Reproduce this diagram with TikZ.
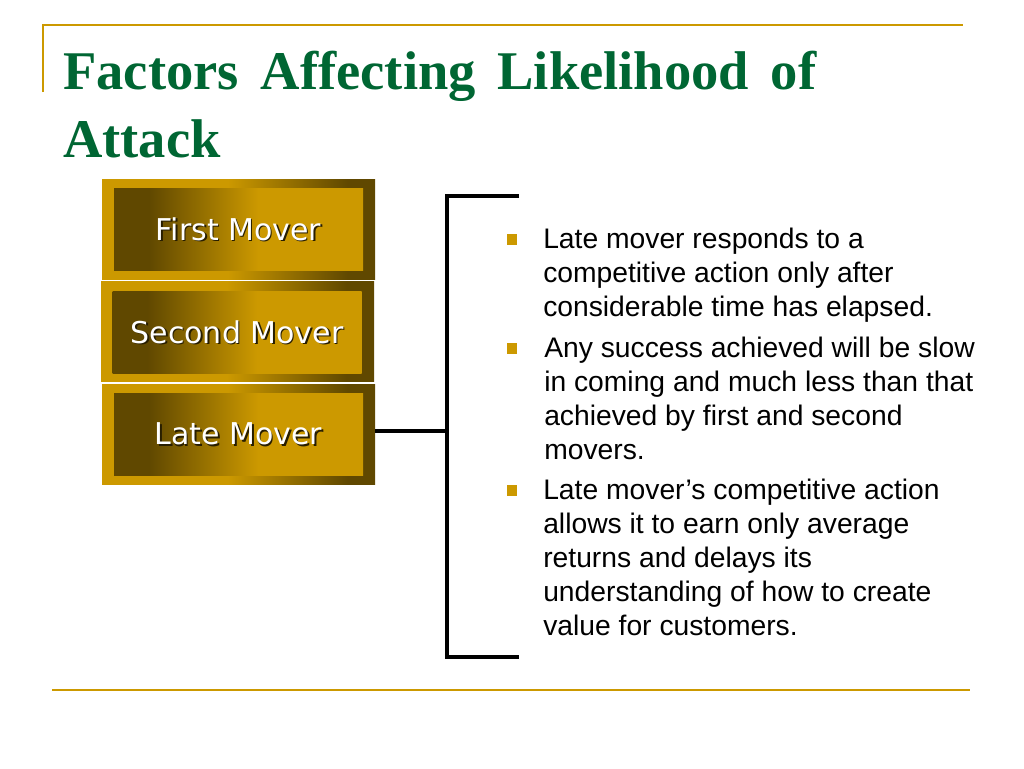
\documentclass[tikz,border=0pt]{standalone}
\usepackage{fontspec}
\setmainfont{Liberation Sans}
\newfontfamily\titlefont[WordSpace=1.6]{Liberation Serif}
\newfontfamily\moverfont{DejaVu Sans}
\definecolor{title_green}{RGB}{0,102,51}
\definecolor{rule_gold}{RGB}{204,153,0}
\definecolor{mover_gold}{RGB}{204,153,0}
\definecolor{mover_dark}{RGB}{96,72,0}
\definecolor{mover_shadow}{RGB}{40,30,0}
\pgfdeclarehorizontalshading{mover_frame}{100bp}{color(0bp)=(mover_gold); color(25bp)=(mover_gold); color(48bp)=(mover_gold); color(70bp)=(mover_dark); color(75bp)=(mover_dark); color(100bp)=(mover_dark)}
\pgfdeclarehorizontalshading{mover_fill}{100bp}{color(0bp)=(mover_dark); color(25bp)=(mover_dark); color(32bp)=(mover_dark); color(54bp)=(mover_gold); color(75bp)=(mover_gold); color(100bp)=(mover_gold)}
\tikzset{
    title_text/.style = {anchor=north west, inner sep=0pt, align=left, text=title_green, font=\titlefont\bfseries\fontsize{40.9}{51}\selectfont},
    box_outer/.style = {rectangle, inner sep=0pt, shade, shading=mover_frame, minimum width=204.75pt, minimum height=75pt},
    box_inner/.style = {rectangle, inner sep=0pt, shade, shading=mover_fill, minimum width=186.75pt, minimum height=61.5pt},
    box_label/.style = {inner sep=0pt, text=white, font=\moverfont\fontsize{22.5}{27}\selectfont},
    box_shadow/.style = {box_label, text=mover_shadow},
    bullet_mark/.style = {rectangle, inner sep=0pt, fill=mover_gold, minimum size=8pt},
    bullet_text/.style = {anchor=north west, inner sep=0pt, align=left, font=\fontsize{21.2}{25.5}\selectfont},
    rule_line/.style = {draw=rule_gold, line width=1.5pt},
    bracket_line/.style = {draw=black, line width=3pt}
}

\begin{document}
\begin{tikzpicture}[x=0.75pt, y=-0.75pt]
    \useasboundingbox (0,0) rectangle (1024,768);
    % slide rules
    \draw[rule_line] (43,92) -- (43,25) -- (963,25);
    \draw[rule_line, line width=2pt] (52,690) -- (970,690);
    % title
    \node[title_text] (title) at (63,50.6) {Factors Affecting Likelihood of\\Attack};
    % mover boxes
    \node[box_outer] (first_outer) at (238.5,229) {};
    \node[box_inner] (first_inner) at (first_outer.center) {};
    \node[box_shadow] (first_shadow) at ([shift={(1.5,1.5)}]first_inner.center) {First Mover};
    \node[box_label] (first_label) at (first_inner.center) {First Mover};
    \node[box_outer] (second_outer) at (237.5,331.5) {};
    \node[box_inner] (second_inner) at (237,332) {};
    \node[box_shadow] (second_shadow) at ([shift={(1.5,1.5)}]second_inner.center) {Second Mover};
    \node[box_label] (second_label) at (second_inner.center) {Second Mover};
    \node[box_outer] (late_outer) at (238.5,434) {};
    \node[box_inner] (late_inner) at (late_outer.center) {};
    \node[box_shadow] (late_shadow) at ([shift={(1.5,1.5)}]late_inner.center) {Late Mover};
    \node[box_label] (late_label) at (late_inner.center) {Late Mover};
    % bracket
    \coordinate (bracket_mid) at (447,430.5);
    \coordinate (bracket_top) at (519,196);
    \coordinate (bracket_bottom) at (519,657);
    \draw[bracket_line] (late_outer.east |- bracket_mid) -- (bracket_mid);
    \draw[bracket_line] (bracket_top) -- (bracket_top -| bracket_mid) -- (bracket_bottom -| bracket_mid) -- (bracket_bottom);
    % bullets
    \node[bullet_mark] (mark_a) at (512,239.5) {};
    \node[bullet_text] (text_a) at (543,227.7) {Late mover responds to a\\competitive action only after\\considerable time has elapsed.};
    \node[bullet_mark] (mark_b) at (512,348.5) {};
    \node[bullet_text] (text_b) at (544,336.7) {Any success achieved will be slow\\in coming and much less than that\\achieved by first and second\\movers.};
    \node[bullet_mark] (mark_c) at (512,490.5) {};
    \node[bullet_text] (text_c) at (543,478.7) {Late mover’s competitive action\\allows it to earn only average\\returns and delays its\\understanding of how to create\\value for customers.};
\end{tikzpicture}
\end{document}
